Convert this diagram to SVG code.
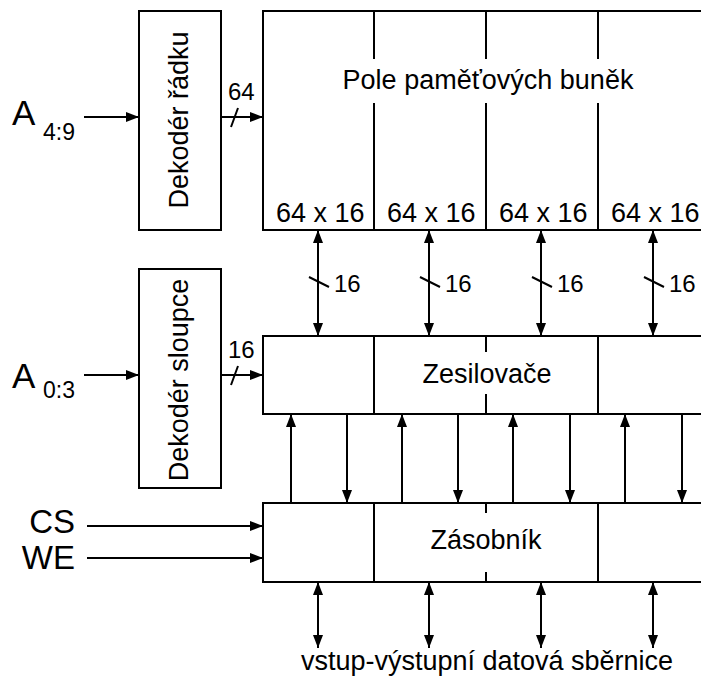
<svg xmlns="http://www.w3.org/2000/svg" width="701" height="686" viewBox="0 0 701 686">
  <style>
    .box { fill: none; stroke: #000; stroke-width: 2; }
    .ln { fill: none; stroke: #000; stroke-width: 2; }
    .arr { fill: none; stroke: #000; stroke-width: 2; marker-end: url(#head); }
    .bi { fill: none; stroke: #000; stroke-width: 2; marker-start: url(#head); marker-end: url(#head); }
    text { font-family: "Liberation Sans", Arial, sans-serif; fill: #000; }
    .t27 { font-size: 27px; }
    .t24 { font-size: 24px; }
    .big { font-size: 35px; }
    .ctl { font-size: 33px; }
    .sub { font-size: 23px; }
    .mid { text-anchor: middle; }
  </style>
  <defs>
    <marker id="head" viewBox="0 0 13 10" refX="13" refY="5" markerWidth="13" markerHeight="10" markerUnits="userSpaceOnUse" orient="auto-start-reverse">
      <path d="M0,0 L13,5 L0,10 z" fill="#000"/>
    </marker>
  </defs>
  <rect width="701" height="686" fill="#fff"/>

  <!-- row decoder -->
  <g id="row-decoder">
    <rect class="box" x="139" y="11" width="82" height="219"/>
    <text class="t27 mid" transform="translate(188,120) rotate(-90)">Dekodér řádku</text>
  </g>

  <!-- column decoder -->
  <g id="col-decoder">
    <rect class="box" x="139" y="269" width="82" height="219"/>
    <text class="t27 mid" transform="translate(188,380) rotate(-90)">Dekodér sloupce</text>
  </g>

  <!-- memory cell array -->
  <g id="cell-array">
    <rect class="box" x="263" y="11" width="460" height="219"/>
    <path class="ln" d="M374,11 V59 M486,11 V59 M598,11 V59 M374,103 V230 M486,103 V230 M598,103 V230"/>
    <text class="t27 mid" x="488" y="89">Pole paměťových buněk</text>
    <text class="t27" x="276" y="222">64 x 16</text>
    <text class="t27" x="387" y="222">64 x 16</text>
    <text class="t27" x="499" y="222">64 x 16</text>
    <text class="t27" x="611" y="222">64 x 16</text>
  </g>

  <!-- sense amplifiers -->
  <g id="amplifiers">
    <rect class="box" x="263" y="336" width="460" height="78"/>
    <path class="ln" d="M374,336 V414 M598,336 V414 M486,336 V352 M486,394 V414"/>
    <text class="t27 mid" x="487" y="383">Zesilovače</text>
  </g>

  <!-- buffer -->
  <g id="buffer">
    <rect class="box" x="263" y="503" width="460" height="79"/>
    <path class="ln" d="M374,503 V582 M598,503 V582 M486,503 V513 M486,572 V582"/>
    <text class="t27 mid" x="486" y="549">Zásobník</text>
  </g>

  <!-- signal labels -->
  <g id="labels">
    <text class="big" x="12" y="125">A</text>
    <text class="sub" x="43" y="140">4:9</text>
    <text class="big" x="12" y="388">A</text>
    <text class="sub" x="43" y="398">0:3</text>
    <text class="ctl" x="75" y="533" text-anchor="end">CS</text>
    <text class="ctl" x="75" y="569" text-anchor="end">WE</text>
    <text class="t24" x="228" y="100">64</text>
    <text class="t24" x="228" y="358">16</text>
    <text class="t24" x="334" y="292">16</text>
    <text class="t24" x="445" y="292">16</text>
    <text class="t24" x="557" y="292">16</text>
    <text class="t24" x="669" y="292">16</text>
    <text class="t27 mid" x="487" y="670">vstup-výstupní datová sběrnice</text>
  </g>

  <!-- connectors -->
  <g id="connectors">
    <!-- address inputs -->
    <path class="arr" d="M84,117 H139"/>
    <path class="arr" d="M84,375 H139"/>
    <path class="arr" d="M221,117 H263"/>
    <path class="arr" d="M221,375 H263"/>
    <path class="ln" d="M231,127 L238,108 M231,385 L238,366"/>
    <!-- control inputs -->
    <path class="arr" d="M87,526 H263"/>
    <path class="arr" d="M87,558 H263"/>
    <!-- array to amplifiers, 16 bits each -->
    <path class="bi" d="M318,230 V336"/>
    <path class="bi" d="M429,230 V336"/>
    <path class="bi" d="M541,230 V336"/>
    <path class="bi" d="M653,230 V336"/>
    <path class="ln" d="M309,277 L329,287 M420,277 L440,287 M532,277 L552,287 M644,277 L664,287"/>
    <!-- amplifiers and buffer -->
    <path class="arr" d="M291,503 V414"/>
    <path class="arr" d="M347,414 V503"/>
    <path class="arr" d="M402,503 V414"/>
    <path class="arr" d="M458,414 V503"/>
    <path class="arr" d="M513,503 V414"/>
    <path class="arr" d="M570,414 V503"/>
    <path class="arr" d="M625,503 V414"/>
    <path class="arr" d="M682,414 V503"/>
    <!-- data bus -->
    <path class="bi" d="M318,582 V648"/>
    <path class="bi" d="M429,582 V648"/>
    <path class="bi" d="M541,582 V648"/>
    <path class="bi" d="M653,582 V648"/>
  </g>
</svg>
